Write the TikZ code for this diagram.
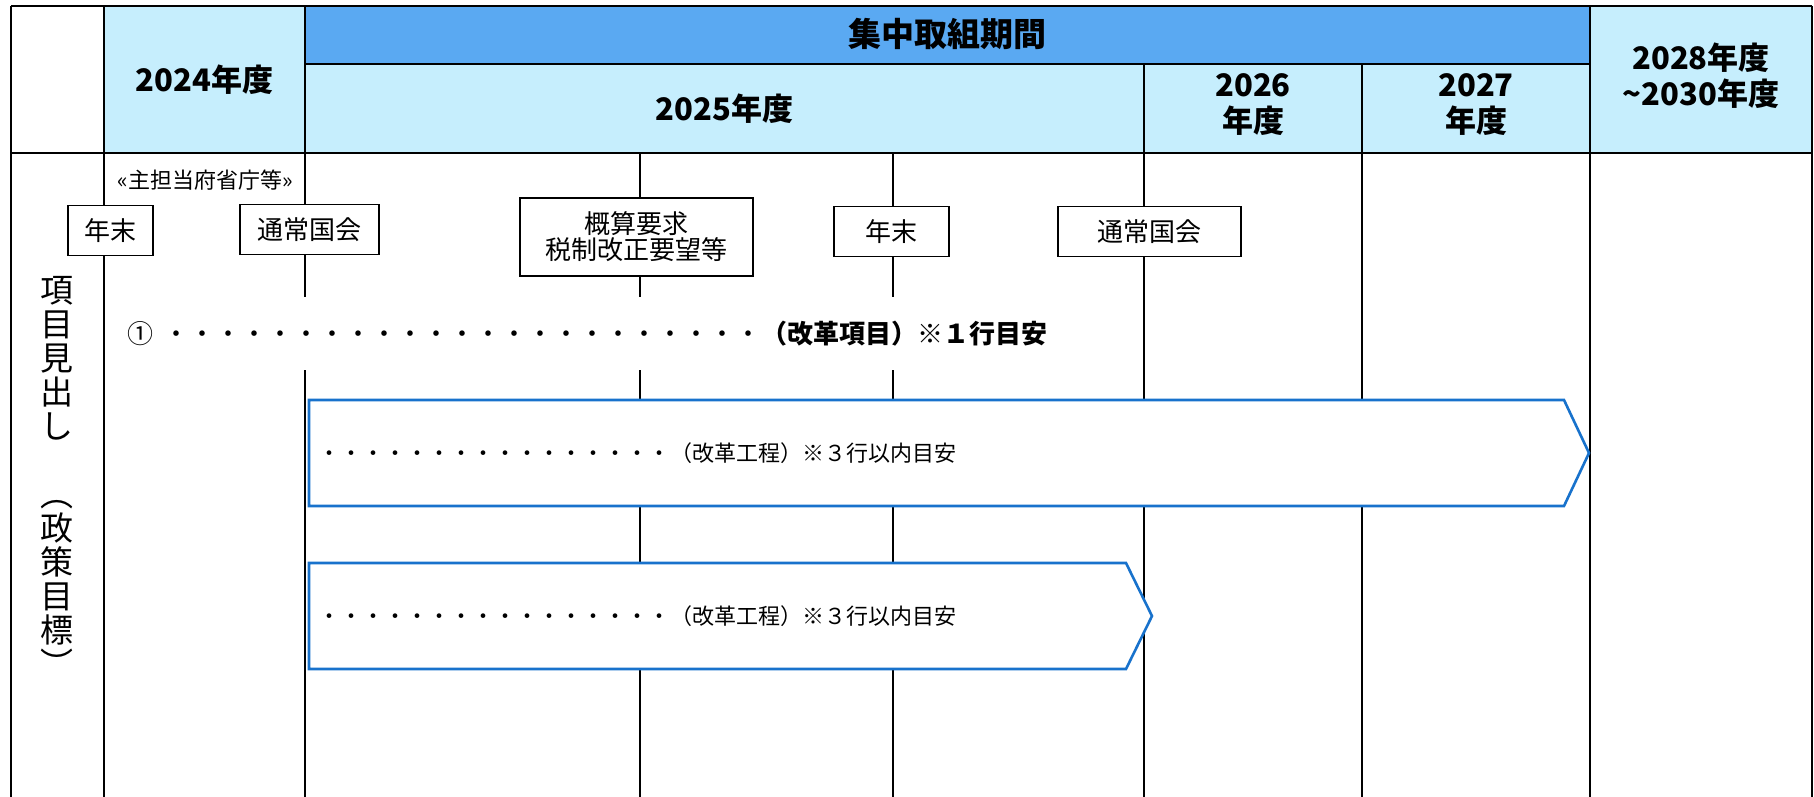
\documentclass[tikz,border=0pt]{standalone}
\usepackage{fontspec}
\setmainfont{Noto Sans CJK JP}
\usepackage{tikz}

\definecolor{bandblue}{RGB}{90,169,242}
\definecolor{cellblue}{RGB}{198,238,253}
\definecolor{arrowblue}{RGB}{24,114,204}

\begin{document}
\begin{tikzpicture}[x=0.5pt,y=-0.5pt,
  grid/.style={line width=1pt},
  event/.style={draw, line width=0.6pt, fill=white, inner sep=0pt, align=center,
    minimum height=25pt, font=\fontsize{13pt}{13pt}\selectfont},
  yearhead/.style={align=center, font=\fontsize{15.5pt}{18pt}\selectfont\bfseries},
  arrowbox/.style={draw=arrowblue, line width=1.3pt, fill=white},
  steptext/.style={anchor=west, inner sep=0pt, font=\fontsize{11pt}{13pt}\selectfont}]
\useasboundingbox (0,0) rectangle (1814,797);

% header cells
\fill[cellblue] (104,6) rectangle (305,153);
\fill[cellblue] (305,64) rectangle (1590,153);
\fill[cellblue] (1590,6) rectangle (1812,153);
\fill[bandblue] (305,6) rectangle (1590,64);

% grid
\draw[grid] (11,6) -- (1812,6);
\draw[grid] (305,64) -- (1590,64);
\draw[grid] (11,153) -- (1812,153);
\foreach \x in {11,104,305,1590,1812}
  \draw[grid] (\x,6) -- (\x,797);
\foreach \x in {1144,1362}
  \draw[grid] (\x,64) -- (\x,797);
\foreach \x in {640,893}
  \draw[grid] (\x,153) -- (\x,797);

% header texts
\node[yearhead] (y2024) at (204.5,79.5) {2024年度};
\node[yearhead, font=\fontsize{16.5pt}{18pt}\selectfont\bfseries] (shuchu) at (947.5,34) {集中取組期間};
\node[yearhead] (y2025) at (724.5,108.5) {2025年度};
\node[yearhead] (y2026) at (1253,105) {2026\\年度};
\node[yearhead] (y2027) at (1476,105) {2027\\年度};
\node[yearhead] (y2028) at (1701,76) {2028年度\\\textasciitilde2030年度};

% schedule
\node[font=\fontsize{11pt}{13pt}\selectfont] (tanto) at (205,180) {«主担当府省庁等»};
\node[event, minimum width=42.5pt] (nenmatsuA) at (110.5,230.5) {年末};
\node[event, minimum width=69.5pt] (tsujoA) at (309.5,229.5) {通常国会};
\node[event, minimum width=116.5pt, minimum height=39pt] (gaisan) at (636.5,237) {概算要求\\税制改正要望等};
\node[event, minimum width=57.5pt] (nenmatsuB) at (891.5,231.5) {年末};
\node[event, minimum width=91.5pt] (tsujoB) at (1149.5,231.5) {通常国会};

\node[inner sep=0pt, align=center, font=\fontsize{16.5pt}{17pt}\selectfont] (midashi) at (57,476)
  {項\\目\\見\\出\\し\\\mbox{}\\︵\\政\\策\\目\\標\\︶};

\node[anchor=west, fill=white, minimum height=36.5pt, inner xsep=3.5pt,
  font=\fontsize{13pt}{13pt}\selectfont] (koumoku) at (120,333.5)
  {①\hspace{5pt}・・・・・・・・・・・・・・・・・・・・・・・\textbf{（改革項目）※１行目安}};

\draw[arrowbox] (309,400) -- (1564,400) -- (1589,453) -- (1564,506) -- (309,506) -- cycle;
\node[steptext] (koteiA) at (318,453) {・・・・・・・・・・・・・・・・（改革工程）※３行以内目安};
\draw[arrowbox] (309,563) -- (1126,563) -- (1152,616) -- (1126,669) -- (309,669) -- cycle;
\node[steptext] (koteiB) at (318,616) {・・・・・・・・・・・・・・・・（改革工程）※３行以内目安};
\end{tikzpicture}
\end{document}
